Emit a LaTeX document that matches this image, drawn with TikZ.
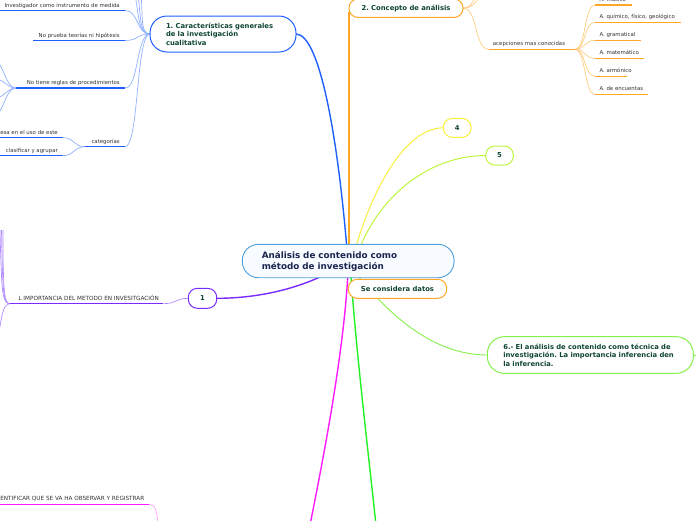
\documentclass[tikz,border=0pt]{standalone}
\usepackage{fontspec}
\setmainfont{DejaVu Sans}
\definecolor{blueA}{HTML}{1F5FFF}
\definecolor{blueL}{HTML}{90B0FF}
\definecolor{orangeA}{HTML}{FFA726}
\definecolor{orangeL}{HTML}{FFCC80}
\definecolor{yellowA}{HTML}{F8EF3A}
\definecolor{ygreenA}{HTML}{BDF43C}
\definecolor{greenA}{HTML}{84F04A}
\definecolor{greenB}{HTML}{22F022}
\definecolor{magA}{HTML}{FF1AFF}
\definecolor{magL}{HTML}{FF99FF}
\definecolor{purA}{HTML}{7A2CFF}
\definecolor{purL}{HTML}{B08CFF}
\definecolor{cBorder}{HTML}{4D9FD9}
\definecolor{cFill}{HTML}{F8FBFF}
\definecolor{navyT}{HTML}{1A2550}
\definecolor{greenT}{HTML}{0F4536}
\definecolor{leafT}{HTML}{333333}
\frenchspacing
\begin{document}
\begin{tikzpicture}[x=1pt,y=-1pt,
  leaf/.style={font=\fontsize{5.4}{6}\selectfont, text=leafT, inner sep=0pt},
  capleaf/.style={font=\fontsize{5.7}{6}\selectfont, text=leafT, inner sep=0pt},
  topic/.style={draw, fill=white, line width=1pt, font=\bfseries\fontsize{6.8}{8.5}\selectfont, text=greenT, inner ysep=0pt},
  bigtopic/.style={topic, align=left},
  ul/.style={line width=1.3pt},
  sub/.style={line width=0.7pt},
  main/.style={line width=1.4pt}]
\useasboundingbox (0,0) rectangle (696,520);
\clip (0,0) rectangle (696,520);

% ---------- coordinates (underline ends)
\coordinate (a1r) at (125,10.5);  \coordinate (a1l) at (-2,10.5);
\coordinate (a2r) at (125,40.5);  \coordinate (a2l) at (33,40.5);
\coordinate (a3r) at (125,88);    \coordinate (a3l) at (16,88);
\coordinate (a4r) at (125,146.7); \coordinate (a4l) at (85,146.7);
\coordinate (b1r) at (63,137.7);  \coordinate (b1l) at (-2,137.7);
\coordinate (b2r) at (63,155.7);  \coordinate (b2l) at (-2,155.7);
\coordinate (accl) at (489,49.3); \coordinate (accr) at (575,49.3);
\coordinate (pul) at (10,303.7);  \coordinate (pur) at (163.3,303.7);
\coordinate (mul) at (-2,504.3);  \coordinate (mur) at (149,504.3);

% main connectors
\draw[blueA,main] (296,34) .. controls (320,34) and (338,140) .. (347,250);
\draw[orangeA,line width=1.8pt] (349,12) -- (349,250);
\draw[yellowA,line width=1pt] (443.3,127.8) .. controls (405,127.8) and (372,190) .. (355,250);
\draw[ygreenA,line width=1pt] (485.7,155.5) .. controls (430,155.5) and (380,195) .. (359,250);
\draw[greenA,line width=0.9pt] (355,272) .. controls (385,310) and (430,355) .. (487.3,355);
\draw[greenB,main] (350.7,272) .. controls (356,350) and (368,450) .. (376,525);
\draw[magA,main] (348,272) .. controls (344,350) and (325,450) .. (310,525);
\draw[purA,main] (216.7,298.3) .. controls (260,298.3) and (300,288) .. (330,272);
\draw[greenA,line width=0.9pt] (693.3,355) -- (700,355);

% blue branch
\foreach \p in {a1r,a2r,a3r,a4r}{
  \draw[blueL,sub] (\p) .. controls ++(14,0) and (136,34) .. (150,34);
}
\draw[blueL,sub] (150,34) .. controls (138,34) and (139,15) .. (135,-5);
\draw[blueL,sub] (150,34) .. controls (139,34) and (141,15) .. (138,-5);
\draw[blueL,sub] (150,34) .. controls (140,34) and (143,15) .. (141,-5);
\draw[blueA,ul] (a1l) -- (a1r);
\draw[blueA,ul] (a2l) -- (a2r);
\draw[blueA,ul] (a3l) -- (a3r);
\draw[blueA,ul] (a4l) -- (a4r);
\draw[blueL,sub] (a3l) .. controls (6,88) and (4,66) .. (-4,60);
\draw[blueL,sub] (a3l) .. controls (7,88) and (5,80) .. (-4,79);
\draw[blueL,sub] (a3l) .. controls (7,88) and (5,97) .. (-4,98);
\draw[blueL,sub] (a3l) .. controls (6,88) and (4,110) .. (-4,116);
\draw[blueL,sub] (b1r) .. controls (75,137.7) and (73,146.7) .. (a4l);
\draw[blueL,sub] (b2r) .. controls (75,155.7) and (73,146.7) .. (a4l);
\draw[blueA,ul] (b1l) -- (b1r);
\draw[blueA,ul] (b2l) -- (b2r);
\node[leaf,anchor=base east] (t1) at (120,7) {Investigador como instrumento de medida};
\node[leaf,anchor=base east] (t2) at (120,37) {No prueba teorías ni hipótesis};
\node[leaf,anchor=base east] (t3) at (120,84.5) {No tiene reglas de procedimientos};
\node[leaf,anchor=base east] (t4) at (120,143.2) {categorías};
\node[leaf,anchor=base east] (t5) at (58,134.2) {esa en el uso de este};
\node[leaf,anchor=base east] (t6) at (58,152.2) {clasificar y agrupar};

% orange branch
\draw[orangeL,sub] (463,8.2) .. controls (478,8.2) and (474,49.3) .. (accl);
\draw[orangeL,sub] (463,8.2) .. controls (470,8.2) and (472,3) .. (476,-4);
\draw[orangeL,sub] (463,8.2) .. controls (471,8.2) and (475,4) .. (480,-4);
\draw[orangeA,ul] (accl) -- (accr);
\node[leaf,anchor=base west] (acc) at (492.7,45.8) {acepciones mas conocidas};
\foreach \y/\e/\t [count=\i] in {5/631.7/A. músico, 22.3/680.7/{A. químico, físico, geológico}, 40.3/640.7/A. gramatical, 58.3/644/A. matemático, 76.3/627.3/A. armónico, 94.3/648.3/A. de encuentas}{
  \draw[orangeL,sub] (accr) .. controls (586,49.3) and (584,\y) .. (595,\y);
  \draw[orangeA,ul] (595,\y) -- (\e,\y);
  \node[leaf,anchor=base west] (o\i) at (599.3,\y-4) {\t};
}

% purple branch
\draw[purL,sub] (pur) .. controls (176,303.7) and (176,298.3) .. (188.3,298.3);
\draw[purL,sub] (pul) .. controls (2,303.7) and (2,290) .. (0.5,250) -- (0,230);
\draw[purL,sub] (pul) .. controls (3,303.7) and (3,288) .. (2,255) -- (1.5,230);
\draw[purL,sub] (pul) .. controls (4,303.7) and (4,290) .. (3,260) -- (3,230);
\draw[purL,sub] (pul) .. controls (3,304) and (2,315) .. (-1,332);
\draw[purA,ul] (pul) -- (pur);
\node[capleaf,anchor=base west] (pt) at (18.3,300.2) {L IMPORTANCIA DEL METODO EN INVESITGACIÓN};

% magenta branch
\draw[magL,sub] (mur) .. controls (155,504.3) and (157,510) .. (158,525);
\draw[magA,ul] (mul) -- (mur);
\node[capleaf,anchor=base east] (mt) at (144.5,500) {ENTIFICAR QUE SE VA HA OBSERVAR Y REGISTRAR};

% ---------- topic nodes
\node[draw=cBorder, fill=cFill, line width=0.9pt, rounded corners=16pt,
      minimum width=211.7pt, minimum height=33.4pt, text width=172.9pt, inner xsep=19.4pt, inner ysep=0pt,
      align=left, text=navyT, font=\bfseries\fontsize{8.8}{11}\selectfont] (c) at (348.2,261) {Análisis de contenido como\\método de investigación};
\node[bigtopic, draw=blueA, rounded corners=17pt, minimum width=146pt, minimum height=36pt,
      text width=114pt, inner xsep=16pt] (n1) at (223,34) {1. Características generales\\de la investigación\\cualitativa};
\node[topic, draw=orangeA, rounded corners=9pt, minimum width=114pt, minimum height=18.5pt] (n2) at (406,8.2) {2. Concepto de análisis};
\node[topic, draw=yellowA, rounded corners=9pt, minimum width=27.7pt, minimum height=19pt] (n4) at (457.2,127.8) {4};
\node[topic, draw=ygreenA, rounded corners=9pt, minimum width=27.7pt, minimum height=19pt] (n5) at (499.5,155.5) {5};
\node[topic, draw=orangeA, rounded corners=9pt, minimum width=98.4pt, minimum height=19pt] (sc) at (397.5,288.8) {Se considera datos};
\node[bigtopic, draw=greenA, rounded corners=17pt, minimum width=206pt, minimum height=36.6pt,
      text width=174pt, inner xsep=16pt] (n6) at (590.3,355) {6.- El análisis de contenido como técnica de\\investigación. La importancia inferencia den\\la inferencia.};
\node[topic, draw=purA, rounded corners=9pt, minimum width=28.4pt, minimum height=20pt] (p1) at (202.5,298.3) {1};
\end{tikzpicture}
\end{document}
